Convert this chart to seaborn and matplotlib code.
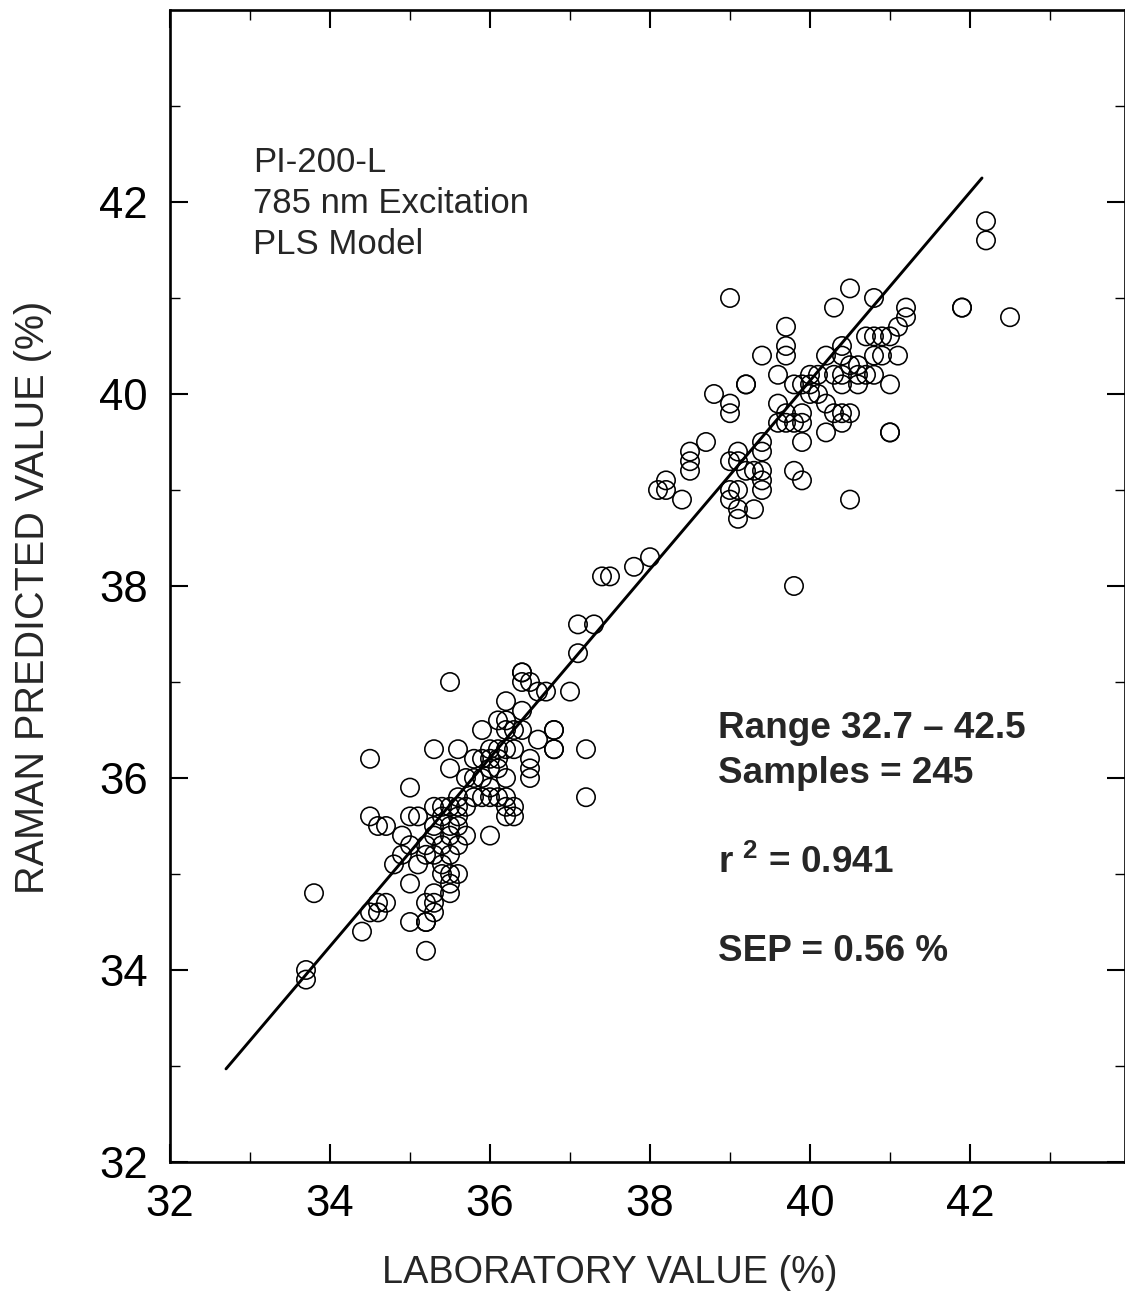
import numpy as np
import pandas as pd
import matplotlib
matplotlib.use("Agg")
import matplotlib.pyplot as plt
import seaborn as sns

# ---------------- data ----------------
lab_value = [
    33.7, 33.7, 33.8, 34.4, 34.5, 34.6, 34.6, 34.7, 34.5, 34.5, 34.6, 34.7,
    34.8, 34.9, 34.9, 35.0, 35.0, 35.0, 35.1, 35.0, 35.0, 35.1, 35.2, 35.2, 35.3,
    35.2, 35.2, 35.2, 35.2, 35.3, 35.3, 35.3,
    35.3, 35.4, 35.5, 35.6, 35.6, 35.7,
    35.3, 35.4, 35.5, 35.6, 35.4, 35.5, 35.6, 35.7, 35.5, 35.3, 35.4, 35.6,
    35.4, 35.5, 35.6, 35.5, 35.5,
    35.3, 35.5, 35.5, 35.6,
    35.7, 35.8, 35.8, 35.9, 35.9, 36.0, 36.1, 36.0, 36.1, 36.2, 36.3,
    35.8, 35.9, 36.0, 36.1, 36.2, 36.0, 36.1, 36.2, 36.0,
    35.9, 36.1, 36.2, 36.2, 36.3, 36.4, 36.4, 36.2,
    36.2, 36.3, 36.2, 36.3, 36.0,
    36.4, 36.4, 36.4, 36.5, 36.6, 36.7, 37.0,
    36.5, 36.5, 36.5, 36.6,
    36.8, 36.8, 36.8, 36.8,
    37.2, 37.2, 37.1, 37.1, 37.3,
    37.4, 37.5, 37.8, 38.0,
    38.1, 38.2, 38.2, 38.4, 38.5, 38.5, 38.5, 38.7, 38.8,
    39.0, 39.0, 39.0, 39.0, 39.1, 39.1, 39.0, 39.0, 39.1, 39.1, 39.1, 39.2, 39.3, 39.3,
    39.4, 39.4, 39.4, 39.4, 39.4, 39.4, 39.2, 39.2,
    39.7, 39.7, 39.7, 39.6, 39.6, 39.6, 39.7, 39.7, 39.8, 39.9, 39.9,
    39.8, 39.9, 40.0, 40.1, 40.0, 40.0, 40.1, 40.2, 40.3, 40.4, 40.2, 40.5, 40.4,
    39.9, 39.8, 39.9, 39.8,
    40.3, 40.5, 40.8,
    40.2, 40.4, 40.4, 40.5, 40.6, 40.7, 40.6, 40.7, 40.3, 40.4, 40.4,
    40.5,
    41.2, 41.2, 41.1, 40.8, 40.9, 41.0, 40.8, 40.9, 41.1, 40.6, 40.8, 41.0, 41.0, 41.0,
    41.9, 41.9, 42.2, 42.2, 42.5,
]
raman_value = [
    34.0, 33.9, 34.8, 34.4, 34.6, 34.6, 34.7, 34.7, 36.2, 35.6, 35.5, 35.5,
    35.1, 35.2, 35.4, 35.3, 35.9, 35.6, 35.6, 34.9, 34.5, 35.1, 35.2, 35.3, 35.4,
    34.2, 34.5, 34.5, 34.7, 34.7, 34.6, 34.8,
    35.7, 35.7, 35.7, 35.7, 35.8, 35.7,
    35.5, 35.6, 35.5, 35.5, 35.3, 35.2, 35.3, 35.4, 35.4, 35.2, 35.1, 35.6,
    35.0, 35.0, 35.0, 34.9, 34.8,
    36.3, 37.0, 36.1, 36.3,
    36.0, 36.0, 36.2, 36.0, 36.2, 36.3, 36.3, 36.2, 36.2, 36.3, 36.3,
    35.8, 35.8, 35.8, 35.8, 35.8, 35.9, 36.1, 36.0, 36.1,
    36.5, 36.6, 36.6, 36.5, 36.5, 36.5, 36.7, 36.8,
    35.7, 35.7, 35.6, 35.6, 35.4,
    37.1, 37.1, 37.0, 37.0, 36.9, 36.9, 36.9,
    36.2, 36.1, 36.0, 36.4,
    36.5, 36.5, 36.3, 36.3,
    36.3, 35.8, 37.3, 37.6, 37.6,
    38.1, 38.1, 38.2, 38.3,
    39.0, 39.0, 39.1, 38.9, 39.2, 39.3, 39.4, 39.5, 40.0,
    41.0, 39.9, 39.8, 39.3, 39.3, 39.4, 39.0, 38.9, 39.0, 38.8, 38.7, 39.2, 39.2, 38.8,
    39.5, 39.4, 39.2, 39.1, 39.0, 40.4, 40.1, 40.1,
    40.7, 40.5, 40.4, 40.2, 39.9, 39.7, 39.8, 39.7, 39.7, 39.7, 39.8,
    40.1, 40.1, 40.2, 40.2, 40.1, 40.0, 40.0, 39.9, 39.8, 39.8, 39.6, 39.8, 39.7,
    39.5, 39.2, 39.1, 38.0,
    40.9, 41.1, 41.0,
    40.4, 40.5, 40.4, 40.3, 40.3, 40.2, 40.1, 40.6, 40.2, 40.2, 40.1,
    38.9,
    40.9, 40.8, 40.7, 40.6, 40.6, 40.6, 40.4, 40.4, 40.4, 40.2, 40.2, 40.1, 39.6, 39.6,
    40.9, 40.9, 41.8, 41.6, 40.8,
]

fit_x = [32.7, 42.15]
fit_y = [32.97, 42.25]

x_major = [32, 34, 36, 38, 40, 42]
x_minor = [33, 35, 37, 39, 41, 43]
y_major = [32, 34, 36, 38, 40, 42]
y_minor = [33, 35, 37, 39, 41, 43]

info_lines = ["PI-200-L", "785 nm Excitation", "PLS Model"]
stats_lines = ["Range 32.7 \u2013 42.5", "Samples = 245",
               r"r $^{\mathbf{2}}$ = 0.941", "SEP = 0.56 %"]

df = pd.DataFrame({"lab": lab_value, "raman": raman_value})

# ---------------- style ----------------
sns.set_style("ticks")
plt.rcParams["font.family"] = ["Liberation Sans", "DejaVu Sans"]
plt.rcParams["mathtext.fontset"] = "custom"
plt.rcParams["mathtext.rm"] = "Liberation Sans"
plt.rcParams["mathtext.bf"] = "Liberation Sans:bold"

W, H = 1125, 1295
fig = plt.figure(figsize=(W / 100, H / 100), dpi=100)
ax_l, ax_r, ax_t, ax_b = 170, 1125, 10, 1162
ax = fig.add_axes([ax_l / W, (H - ax_b) / H, (ax_r - ax_l) / W, (ax_b - ax_t) / H])

sns.lineplot(x=fit_x, y=fit_y, ax=ax, color="black", linewidth=2.1)
sns.scatterplot(data=df, x="lab", y="raman", ax=ax, marker="o", s=175,
                facecolors="none", edgecolor="black", linewidth=1.15, zorder=3)

ax.set_xlim(32, 32 + (ax_r - ax_l) / 80)
ax.set_ylim(32, 44)
ax.set_xticks(x_major)
ax.set_xticks(x_minor, minor=True)
ax.set_yticks(y_major)
ax.set_yticks(y_minor, minor=True)
ax.set_xticklabels([str(v) for v in x_major])
ax.set_yticklabels([str(v) for v in y_major])

ax.tick_params(which="both", direction="in", top=True, right=True, colors="black")
ax.tick_params(which="major", length=13, width=1.5, labelsize=31.5, pad=16)
ax.tick_params(which="minor", length=7, width=1.0)
for sp in ax.spines.values():
    sp.set_linewidth(1.9)
    sp.set_color("black")

ax.set_xlabel("LABORATORY VALUE (%)", fontsize=27.3)
ax.set_ylabel("RAMAN PREDICTED VALUE (%)", fontsize=28.5)
ax.xaxis.set_label_coords((610 - ax_l) / (ax_r - ax_l), -(1255 - ax_b) / (ax_b - ax_t))
ax.yaxis.set_label_coords(-(ax_l - 52) / (ax_r - ax_l), (ax_b - 597) / (ax_b - ax_t))


def to_ax(px, py):
    return (px - ax_l) / (ax_r - ax_l), (ax_b - py) / (ax_b - ax_t)


for line, base in zip(info_lines, [172, 213, 254]):
    xa, ya = to_ax(253, base)
    ax.text(xa, ya, line, transform=ax.transAxes, fontsize=25, va="baseline", ha="left")

for line, base in zip(stats_lines, [738, 783, 873, 961]):
    xa, ya = to_ax(718, base)
    ax.text(xa, ya, line, transform=ax.transAxes, fontsize=26.6, fontweight="bold",
            va="baseline", ha="left")

ax.grid(False)
fig.savefig("out.png", dpi=100)
